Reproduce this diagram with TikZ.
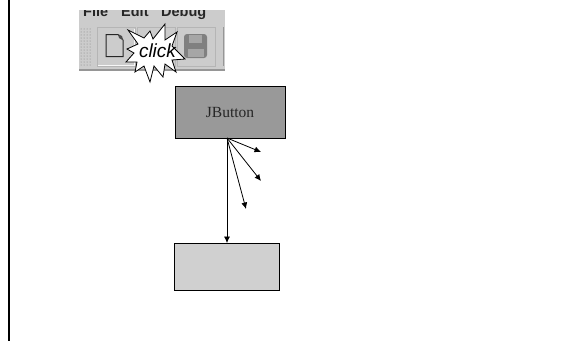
\documentclass[tikz,border=0pt]{standalone}
\usepackage{fontspec}
\setmainfont{Liberation Serif}
\newfontfamily\uifont{Liberation Sans}
\usetikzlibrary{arrows.meta,patterns}
\definecolor{tb}{RGB}{204,204,204}
\definecolor{tbdark}{RGB}{150,150,150}
\definecolor{btndark}{RGB}{153,153,153}
\definecolor{btnlight}{RGB}{208,208,208}
\tikzset{
  px/.style={x=1pt,y=-1pt},
  wire/.style={draw=black,line width=0.8pt,-{Latex[length=6.5pt,width=6pt]}},
  tool/.style={draw=tbdark!70!white,line width=1pt,fill=tb},
  toolhi/.style={draw=white!85!tb,line width=0.8pt},
  menuitem/.style={anchor=base west,font=\uifont\bfseries\fontsize{14.5}{15}\selectfont,text=black!85,inner sep=0pt}
}
\begin{document}
\begin{tikzpicture}[px]
\useasboundingbox (0,0) rectangle (576,341);
\fill[white] (0,0) rectangle (576,341);
\draw[black,line width=2.2pt] (9,0) -- (9,341);
% toolbar
\fill[tb] (79,10) rectangle (225,69);
\fill[tbdark] (79,68.5) rectangle (225,71);
\begin{scope}
\clip (79,10) rectangle (225,20);
\node[menuitem] (mfile) at (83,16.5) {File};
\node[menuitem] (medit) at (121,16.5) {Edit};
\node[menuitem] (mdebug) at (161,16.5) {Debug};
\end{scope}
\fill[pattern=dots,pattern color=gray] (79,27) rectangle (91,66);
\draw[tool] (97,27.5) rectangle (135,66.5);
\draw[toolhi] (98,65.5) -- (134,65.5) -- (134,28.5);
\draw[tool] (137,27.5) rectangle (175,66.5);
\draw[tool] (177,27.5) rectangle (215,66.5);
\draw[tbdark,line width=1pt] (223,27) -- (223,66);
% page icon
\draw[black!85,line width=1pt,fill=tb] (106,34.5) -- (118,34.5) -- (123,40) -- (123,56.5) -- (106,56.5) -- cycle;
\fill[black!70] (118,34) -- (122,36) -- (123,40) -- (119,38) -- cycle;
% floppy icon
\fill[black!50,rounded corners=3pt] (184,34) rectangle (207,58);
\fill[black!35] (189,35) rectangle (202,43);
\fill[black!35] (188,49) rectangle (204,57);
% burst
\draw[black,line width=0.8pt,fill=white]
 (128,30) -- (144,38) -- (150,31) -- (153,39) -- (165,24) -- (165,40) -- (177,32) -- (172,46)
 -- (185,59) -- (172,60) -- (176,72) -- (165,64) -- (163,77) -- (154,66) -- (150,82) -- (144,66)
 -- (135,72) -- (137,62) -- (126,62) -- (134,53) -- (127,49) -- (138,44) -- cycle;
\node[font=\uifont\itshape\fontsize{19}{19}\selectfont,inner sep=0pt] (clicklabel) at (157.5,51) {click};
% boxes
\node[draw=black,line width=0.9pt,fill=btndark,minimum width=110pt,minimum height=52pt,inner sep=0pt,font=\fontsize{15.5}{16}\selectfont,text=black!85] (jb) at (230,112) {JButton};
\node[draw=black,line width=0.9pt,fill=btnlight,minimum width=105pt,minimum height=47pt,inner sep=0pt] (tg) at (227,267) {};
\coordinate (src) at (227,138);
\coordinate (e1) at (261,152);
\coordinate (e2) at (261,181);
\coordinate (e3) at (246,209);
\draw[wire] (src) -- (tg.north -| src);
\draw[wire] (src) -- (e1);
\draw[wire] (src) -- (e2);
\draw[wire] (src) -- (e3);
\end{tikzpicture}
\end{document}
